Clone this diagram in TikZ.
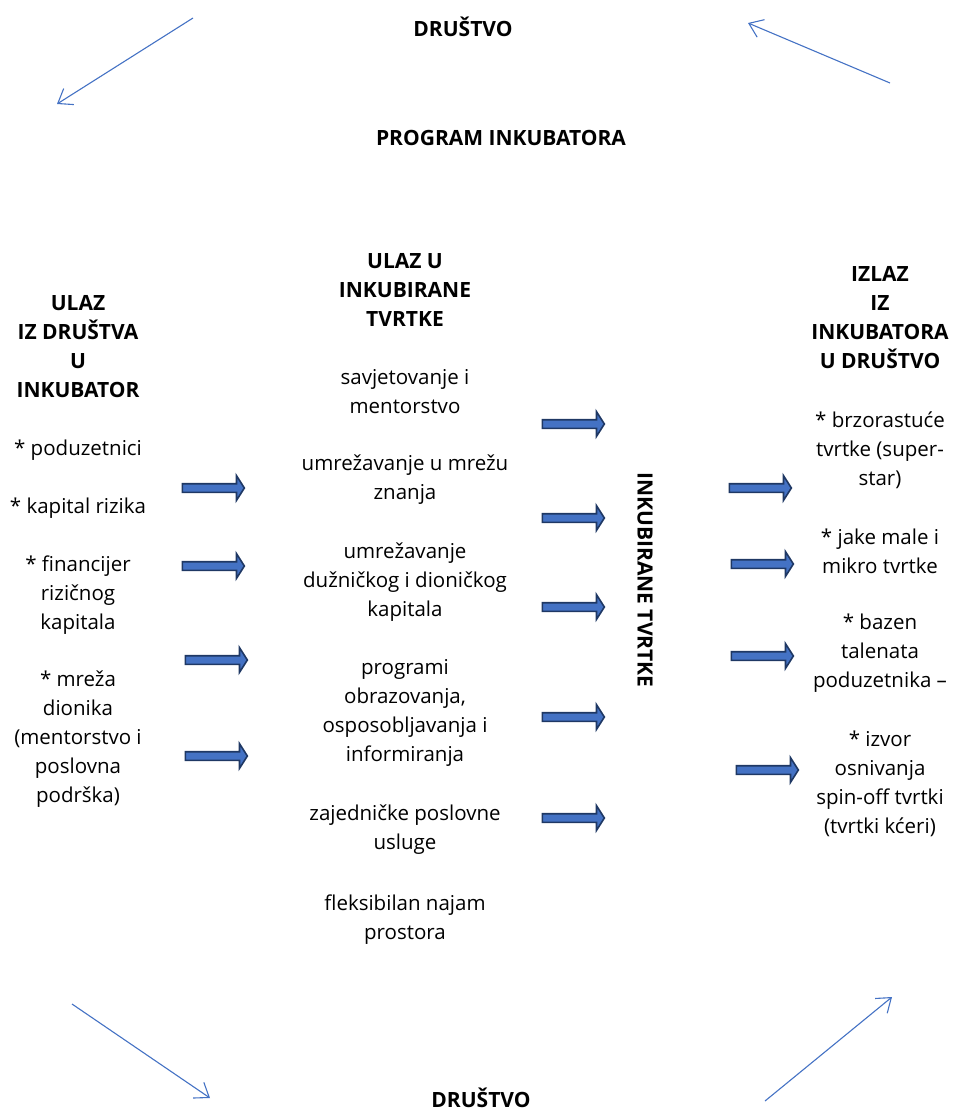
\documentclass[tikz,border=0pt]{standalone}
\usepackage{fontspec}
\setmainfont{Open Sans}
\usetikzlibrary{shapes.arrows,arrows.meta}
\definecolor{arrowblue}{HTML}{4472C4}
\definecolor{arrownavy}{HTML}{1F3864}
\tikzset{
  txt/.style={align=center,inner sep=0pt,font=\fontsize{20.5}{29}\selectfont},
  head/.style={txt,font=\fontsize{21}{29}\selectfont\bfseries},
  blockarrow/.style={single arrow,draw=arrownavy,line width=1.6pt,fill=arrowblue,
    minimum height=62pt,inner sep=3.5pt,single arrow head extend=8pt,
    single arrow tip angle=115,single arrow head indent=0pt},
  flow/.style={draw=arrowblue,line width=1.1pt,-{Straight Barb[length=13pt,width=19pt]}}
}
\begin{document}
\begin{tikzpicture}[x=1pt,y=-1pt]
\useasboundingbox (0,0) rectangle (955,1111);

% Society and programme
\node[head] (drustvoTop) at (463,27) {DRUŠTVO};
\node[head] (program) at (501,138) {PROGRAM INKUBATORA};
\node[head] (drustvoBot) at (481,1098) {DRUŠTVO};
\coordinate (tl1) at (193,18);  \coordinate (tl2) at (57,104);
\coordinate (tr1) at (890,83);  \coordinate (tr2) at (748,23);
\coordinate (bl1) at (72,1004); \coordinate (bl2) at (210,1098);
\coordinate (br1) at (765,1101);\coordinate (br2) at (892,997);
\draw[flow] (tl1) -- (tl2);
\draw[flow] (tr1) -- (tr2);
\draw[flow] (bl1) -- (bl2);
\draw[flow] (br1) -- (br2);

% Left column
\node[head] (ulazHead) at (78,347) {ULAZ\\IZ DRUŠTVA\\U\\INKUBATOR};
\node[txt] (pod) at (78,450) {* poduzetnici};
\node[txt] (kap) at (78,508) {* kapital rizika};
\node[txt] (fin) at (78,595) {* financijer\\rizičnog\\kapitala};
\node[txt] (mre) at (78,739) {* mreža\\dionika\\(mentorstvo i\\poslovna\\podrška)};

% Middle column
\node[head] (ulazInk) at (405,290) {ULAZ U\\INKUBIRANE\\TVRTKE};
\node[txt] (sav) at (405,392) {savjetovanje i\\mentorstvo};
\node[txt] (umr) at (405,480) {umrežavanje u mrežu\\znanja};
\node[txt] (dug) at (405,582) {umrežavanje\\dužničkog i dioničkog\\kapitala};
\node[txt] (obr) at (405,713) {programi\\obrazovanja,\\osposobljavanja i\\informiranja};
\node[txt] (zaj) at (405,830) {zajedničke poslovne\\usluge};
\node[txt] (fle) at (405,920) {fleksibilan najam\\prostora};

% Incubated firms
\node[head,rotate=-90] (tvrtke) at (645,580) {INKUBIRANE TVRTKE};

% Right column
\node[head] (izlaz) at (880,318) {IZLAZ\\IZ\\INKUBATORA\\U DRUŠTVO};
\node[txt] (brz) at (880,450) {* brzorastuće\\tvrtke (super-\\star)};
\node[txt] (jak) at (880,551) {* jake male i\\mikro tvrtke};
\node[txt] (baz) at (880,653) {* bazen\\talenata\\poduzetnika –};
\node[txt] (izv) at (880,784) {* izvor\\osnivanja\\spin-off tvrtki\\(tvrtki kćeri)};

% Block arrows
\node[blockarrow] (la1) at (212,488) {};
\node[blockarrow] (la2) at (212,566) {};
\node[blockarrow] (la3) at (215,660) {};
\node[blockarrow] (la4) at (215,756) {};
\node[blockarrow] (ma1) at (572,424) {};
\node[blockarrow] (ma2) at (572,518) {};
\node[blockarrow] (ma3) at (572,607) {};
\node[blockarrow] (ma4) at (572,717) {};
\node[blockarrow] (ma5) at (572,818) {};
\node[blockarrow] (ra1) at (759,488) {};
\node[blockarrow] (ra2) at (761,564) {};
\node[blockarrow] (ra3) at (761,656) {};
\node[blockarrow] (ra4) at (766,770) {};
\end{tikzpicture}
\end{document}
